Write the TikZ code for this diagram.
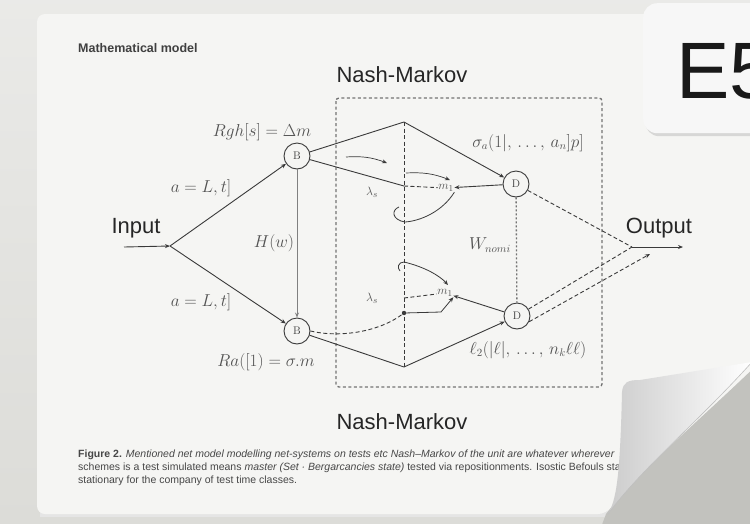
\documentclass[tikz,border=0pt]{standalone}
\usepackage{fontspec}
\newfontfamily\hsans{Liberation Sans}
\usetikzlibrary{arrows.meta,shadows,calc}
\definecolor{paper}{HTML}{F5F5F3}
\definecolor{bgc}{HTML}{DCDCD8}
\definecolor{ink}{HTML}{3A3A3A}
\begin{document}
\begin{tikzpicture}[x=1pt,y=-1pt,
  bnode/.style={circle,draw=ink,line width=0.9pt,minimum size=26pt,inner sep=0pt,fill=paper,font=\fontsize{11}{11}\selectfont,text=ink},
  wire/.style={draw=ink,line width=0.9pt},
  dwire/.style={wire,dash pattern=on 4pt off 2.5pt},
  arr/.style={-{Stealth[length=5pt,width=4pt]}},
  mlab/.style={font=\fontsize{16}{16}\selectfont,text=black!68,inner sep=1pt},
  small/.style={font=\fontsize{13}{13}\selectfont,text=black!68,inner sep=0.5pt},
  big/.style={font=\hsans\fontsize{22}{22}\selectfont,text=black!85},
  boxd/.style={draw=black!55,line width=1.3pt,dash pattern=on 3pt off 2.5pt,rounded corners=3pt},
  captxt/.style={font=\hsans\fontsize{10.5}{11}\selectfont,text=black!72,anchor=west,inner sep=0pt},
]
\useasboundingbox (0,0) rectangle (750,523);
% background
\shade[top color=bgc!60!white,bottom color=bgc] (0,0) rectangle (750,523);
% paper
\fill[black!10] (40,18) rectangle (752,517);
\fill[paper,rounded corners=8pt] (37,14) -- (760,14) -- (760,362)
   .. controls (700,420) and (640,470) .. (606,514) -- (37,514) -- cycle;
% E5 tab
\node[fill=white!97!black,rounded corners=14pt,drop shadow={opacity=0.25,shadow xshift=2pt,shadow yshift=-3pt},
      minimum width=150pt,minimum height=130pt,anchor=north west,inner sep=0pt] (tab) at (643,3) {};
\node[font=\hsans\fontsize{80}{80}\selectfont,anchor=base west,inner sep=0pt,text=black!90] (e5) at (676,98) {E5};

% title
\node[font=\hsans\bfseries\fontsize{12.5}{12.5}\selectfont,anchor=west,text=black!75,inner sep=0pt] (title) at (78,48) {Mathematical model};

% frame
\node[big] (nmtop) at (402,75) {Nash-Markov};
\node[big] (nmbot) at (402,422) {Nash-Markov};
\draw[boxd] (336,98) rectangle (602,387);

% main nodes
\coordinate (S) at (124,247);
\coordinate (J) at (170,246);
\node[big] (in) at (136,228) {Input};
\node[bnode] (B1) at (297,156) {B};
\node[bnode] (B2) at (297,331) {B};
\coordinate (A1) at (404,122);
\coordinate (A2) at (404,367);
\node[bnode] (D1) at (516,184) {D};
\node[bnode] (D2) at (517,316) {D};
\coordinate (O) at (632,247);
\coordinate (O2) at (650,254);
\coordinate (OE) at (683,247);
\node[big] (out) at (659,228) {Output};

\draw[wire,arr] (S) -- (J);
\draw[wire,arr] (J) -- (B1);
\draw[wire,arr] (J) -- (B2);
\draw[wire,draw=black!50,arr] (B1) -- (B2);
\draw[wire] (B1) -- (A1);
\draw[wire,arr] (A1) -- (D1);
\draw[wire] (B2) -- (A2);
\draw[wire,arr] (A2) -- (D2);
\draw[dwire] (A1) -- (A2);
\draw[draw=black!55,line width=1.3pt,dash pattern=on 2pt off 2pt] (D1) -- (D2);
\draw[dwire] (D1) -- (O);
\draw[dwire] (D2) -- (O);
\draw[dwire,arr] (D2.-25) -- (O2);
\draw[wire,arr] (O) -- (OE);

% upper middle
\coordinate (M1) at (404,186);
\node[small] (m1) at (446,188) {$m_1$};
\draw[wire] (B1) -- (M1);
\draw[dwire] (M1) -- (m1);
\draw[wire,arr] (D1) -- (m1);
\node[small] (l1) at (372,192) {$\lambda_s$};
\coordinate (c1s) at (346,157);
\coordinate (c1e) at (387,163);
\draw[wire,line width=0.7pt,arr] (c1s) to[bend left=12] (c1e);
\coordinate (c2s) at (406,173);
\coordinate (c2e) at (450,180);
\draw[wire,line width=0.7pt,arr] (c2s) to[bend left=12] (c2e);
\coordinate (L1) at (405,222);
\draw[wire,line width=0.8pt] (m1.south east) .. controls (442,212) and (420,221) .. (L1)
   .. controls (392,220) and (391,210) .. (399,207);

% lower middle
\coordinate (H2) at (404,262);
\draw[wire,line width=0.8pt] (H2) .. controls (398,262) and (397,268) .. (400,271);
\node[small] (m2) at (445,293) {$m_1$};
\draw[wire,line width=0.8pt,arr] (H2) .. controls (425,267) and (440,276) .. (448,285);
\coordinate (P) at (404,313);
\fill[ink] (P) circle (2.2pt);
\coordinate (M2) at (404,298);
\draw[dwire] (M2) -- (m2);
\draw[wire,line width=0.8pt,arr] (P) -- (441,312) -- (m2.south east);
\draw[dwire] (B2.east) .. controls (340,338) and (380,332) .. (P);
\draw[wire,arr] (D2) -- (m2);
\node[small] (l2) at (372,298) {$\lambda_s$};

% labels
\node[mlab] (r1) at (262,132) {$Rgh[s] = \Delta m$};
\node[mlab] (r2) at (266,362) {$Ra([1) = \sigma.m$};
\node[mlab] (a1) at (201,188) {$a = L,t]$};
\node[mlab] (a2) at (201,302) {$a = L,t]$};
\node[mlab] (hw) at (274,243) {$H(w)$};
\node[mlab] (s1) at (528,143) {$\sigma_a(1|,\,\dots,\,a_n]p]$};
\node[mlab] (wn) at (490,245) {$W_{nomi}$};
\node[mlab] (s2) at (528,350) {$\ell_2(|\ell|,\,\dots,\,n_k\ell\ell)$};

% caption
\node[captxt] (cp1) at (78,455) {\textbf{Figure 2.} \textit{Mentioned net model modelling net-systems on tests etc Nash–Markov of the unit are whatever wherever}};
\node[captxt] (cp2) at (78,468) {schemes is a test simulated means \textit{master (Set · Bergarcancies state)} tested via repositionments. Isostic Befouls state};
\node[captxt] (cp3) at (78,481) {stationary for the company of test time classes.};

% page curl
\fill[bgc!88!black] (606,514) .. controls (640,470) and (700,420) .. (760,362) -- (760,530) -- (600,530) -- cycle;
\shade[left color=black!20,right color=white]
  (608,514) .. controls (616,500) and (620,480) .. (622,392)
  .. controls (623,382) and (628,380) .. (640,380)
  -- (752,362) .. controls (700,420) and (640,470) .. (608,514) -- cycle;
\draw[black!25,line width=0.6pt] (608,514) .. controls (640,470) and (700,420) .. (752,362);
\end{tikzpicture}
\end{document}
